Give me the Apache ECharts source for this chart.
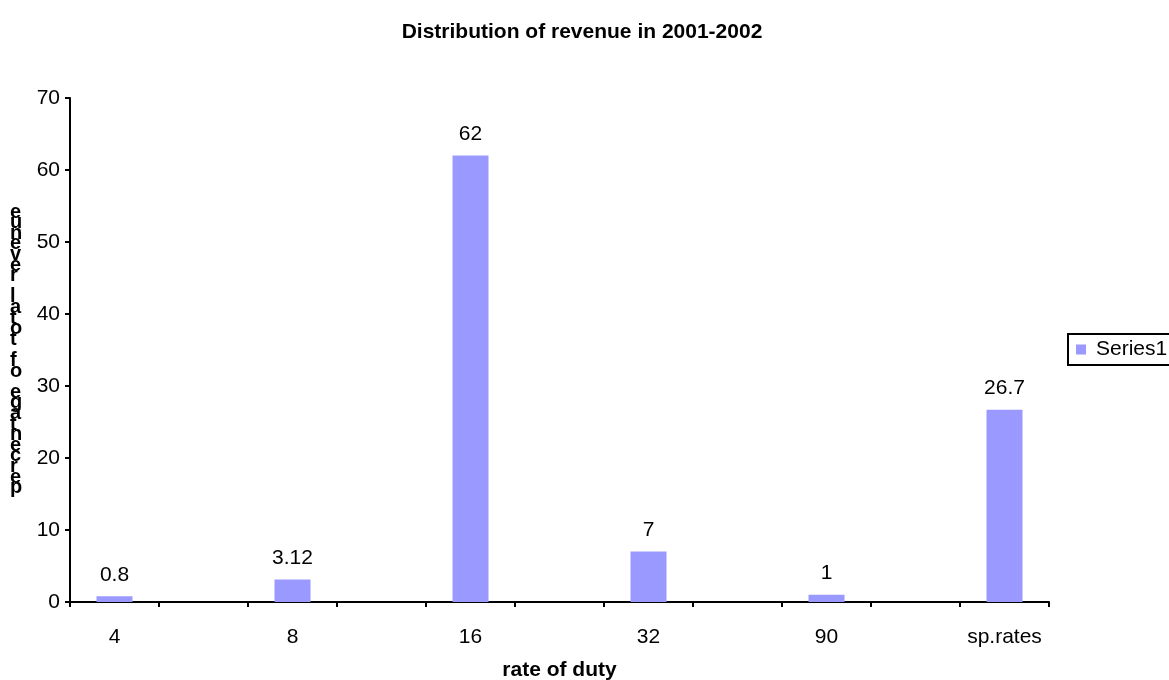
<!DOCTYPE html>
<html>
<head>
<meta charset="utf-8">
<script src="https://cdn.jsdelivr.net/npm/echarts@6/dist/echarts.min.js"></script>
<style>html,body{margin:0;padding:0;background:#fff;}#c{width:1169px;height:680px;}</style>
</head>
<body>
<div id="c"></div>
<script>
const categories = ["4", "", "8", "", "16", "", "32", "", "90", "", "sp.rates"];
const series1 = [0.8, null, 3.12, null, 62, null, 7, null, 1, null, 26.7];
const yTicks = { min: 0, max: 70, interval: 10 };
const titleText = "Distribution of revenue in 2001-2002";
const xAxisName = "rate of duty";
const yAxisName = "percentage of total revenue";
const seriesName = "Series1";

const stackedName = yAxisName.split("").reverse().join("\n");
const font = "'Liberation Sans', Arial, sans-serif";

const chart = echarts.init(document.getElementById('c'), null, { renderer: 'canvas' });
chart.setOption({
  animation: false,
  backgroundColor: '#fff',
  title: {
    text: titleText,
    left: 577, top: 17, textAlign: 'center',
    textStyle: { fontFamily: font, fontSize: 21, fontWeight: 'bold', color: '#000' }
  },
  legend: {
    data: [{ name: seriesName, icon: 'rect' }],
    left: 1068, top: 334,
    itemWidth: 10, itemHeight: 10, itemGap: 4,
    padding: [5, 10, 5, 8],
    borderColor: '#000', borderWidth: 2, backgroundColor: '#fff',
    textStyle: { fontFamily: font, fontSize: 21, color: '#000', padding: [0, 0, 0, 5] }
  },
  grid: { left: 70, right: 120, top: 98, bottom: 78, containLabel: false, outerBoundsMode: 'none' },
  graphic: [{
    type: 'text', left: 10, top: 202,
    style: { text: stackedName, fontFamily: font, fontSize: 20, fontWeight: 'bold', lineHeight: 10.6, fill: '#000', align: 'center' }
  }],
  xAxis: {
    type: 'category', data: categories,
    name: xAxisName, nameLocation: 'middle', nameGap: 58,
    nameTextStyle: { fontFamily: font, fontSize: 21, fontWeight: 'bold', color: '#000' },
    axisLine: { lineStyle: { color: '#000', width: 2 } },
    axisTick: { show: true, alignWithLabel: false, length: 5, lineStyle: { color: '#000', width: 2 } },
    axisLabel: { interval: 0, margin: 25, fontFamily: font, fontSize: 21, color: '#000' },
    splitLine: { show: false }
  },
  yAxis: {
    type: 'value', min: yTicks.min, max: yTicks.max, interval: yTicks.interval,
    axisLine: { show: true, lineStyle: { color: '#000', width: 2 } },
    axisTick: { show: true, length: 5, lineStyle: { color: '#000', width: 2 } },
    axisLabel: { margin: 10, fontFamily: font, fontSize: 21, color: '#000' },
    splitLine: { show: false }
  },
  series: [{
    name: seriesName, type: 'bar', data: series1,
    barWidth: 36,
    itemStyle: { color: '#9999FF' },
    label: { show: true, position: 'top', distance: 11, fontFamily: font, fontSize: 21, color: '#000' }
  }]
});
</script>
</body>
</html>
